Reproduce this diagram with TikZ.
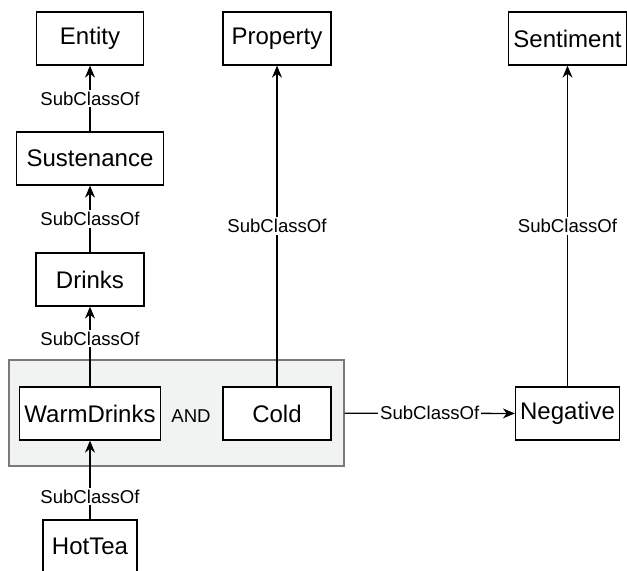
\documentclass[tikz,border=0pt]{standalone}
\usepackage{fontspec}
\setmainfont{Liberation Sans}
\usetikzlibrary{arrows.meta}
\definecolor{groupfill}{HTML}{F1F2F2}
\definecolor{groupline}{HTML}{7A7A7A}
\begin{document}
\begin{tikzpicture}[x=0.5pt, y=-0.5pt,
    cls/.style = {draw, fill=white, line width=0.65pt, font=\fontsize{12}{14}\selectfont, minimum height=26.5pt, inner sep=0pt},
    rel/.style = {-{Stealth[length=6pt,width=5pt]}, line width=0.65pt},
    lbl/.style = {fill=white, font=\fontsize{9.3}{11}\selectfont, inner sep=1pt}]
  \useasboundingbox (0,0) rectangle (627,571);
  \node[draw=groupline, fill=groupfill, line width=0.65pt, minimum width=167.5pt, minimum height=53pt](grp) at (176.5,413) {};
  \node[cls, minimum width=53.5pt](ent) at (90,38.5) {Entity};
  \node[cls, minimum width=73.5pt](sus) at (90,158.5) {Sustenance};
  \node[cls, minimum width=54pt](dri) at (90,279.5) {Drinks};
  \node[cls, minimum width=70.5pt](warm) at (90,413.5) {WarmDrinks};
  \node[cls, minimum width=54pt](cold) at (277,413.5) {Cold};
  \node[font=\fontsize{9.3}{11}\selectfont](and) at (191,416) {AND};
  \node[cls, minimum width=47pt](hot) at (90,546.5) {HotTea};
  \node[cls, minimum width=54pt](prop) at (277,38.5) {Property};
  \node[cls, minimum width=59pt](sent) at (567.5,38.5) {Sentiment};
  \node[cls, minimum width=52pt](neg) at (567.5,413.5) {Negative};

  \draw[rel] (sus) -- node[lbl]{SubClassOf} (ent);
  \draw[rel] (dri) -- node[lbl]{SubClassOf} (sus);
  \draw[rel] (warm) -- node[lbl, pos=0.6]{SubClassOf} (dri);
  \draw[rel] (hot) -- node[lbl, pos=0.29]{SubClassOf} (warm);
  \draw[rel] (cold) -- node[lbl]{SubClassOf} (prop);
  \draw[rel] (neg) -- node[lbl]{SubClassOf} (sent);
  \draw[rel] (grp) -- node[lbl]{SubClassOf} (neg);
\end{tikzpicture}
\end{document}
